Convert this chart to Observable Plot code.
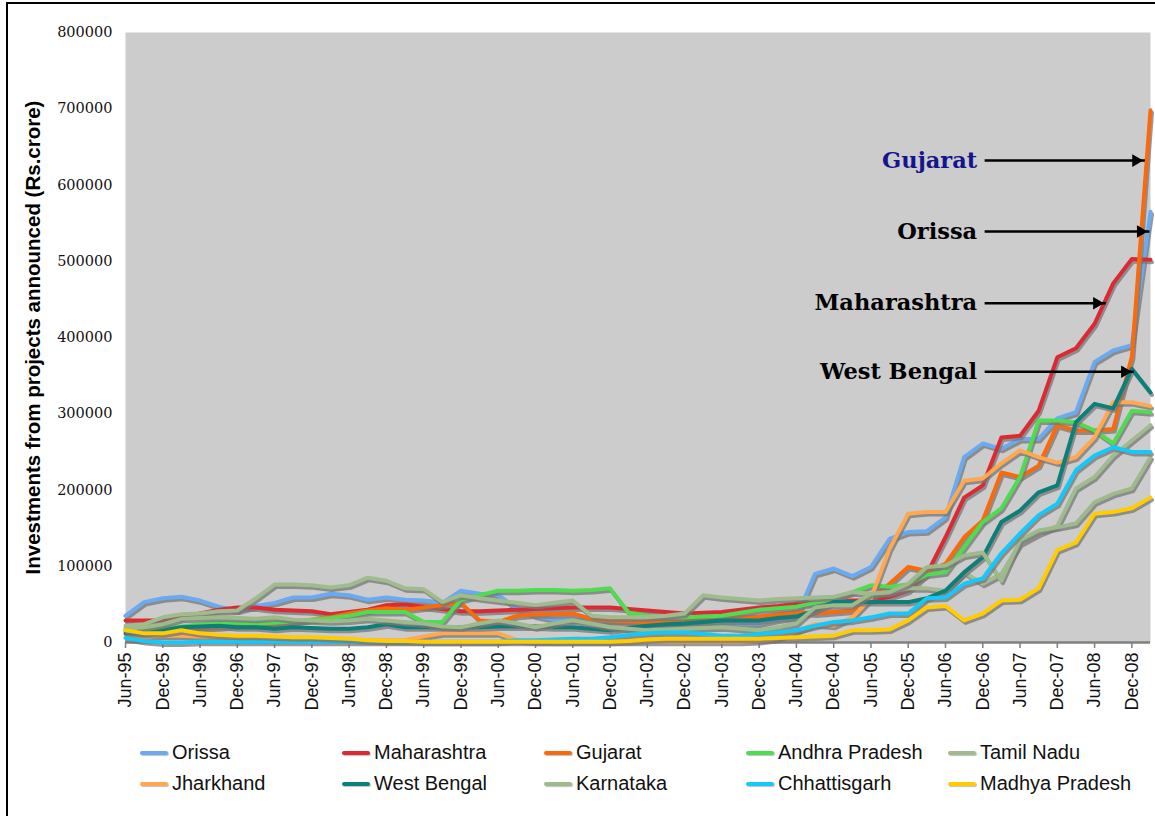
<!DOCTYPE html>
<html>
<head>
<meta charset="utf-8">
<script src="https://cdn.jsdelivr.net/npm/d3@7"></script>
<script src="https://cdn.jsdelivr.net/npm/@observablehq/plot@0.6"></script>
<style>
  html, body { margin: 0; padding: 0; background: #fff; }
  #wrap { position: relative; width: 1155px; height: 816px; overflow: hidden; }
  #border { position: absolute; left: 6px; top: 2px; right: -10px; bottom: -10px; border-left: 2px solid #000; border-top: 2px solid #000; }
  #chart { position: absolute; left: 0; top: 0; }
  #legend { position: absolute; left: 0; top: 741px; width: 1155px; height: 70px; font-family: "Liberation Sans", Arial, sans-serif; font-size: 20px; color: #111; }
  .item { position: absolute; display: flex; align-items: center; white-space: nowrap; }
  .sw { display: inline-block; width: 28px; height: 4px; margin-right: 4px; border-radius: 2px; box-shadow: 1px 1px 1px rgba(0,0,0,0.25); }
  g[aria-label="x-axis tick label"] { font-family: "Liberation Sans", Arial, sans-serif; font-size: 18px; fill: #111; }
  g[aria-label="y-axis tick label"] { font-family: "DejaVu Serif", serif; font-size: 14.5px; fill: #111; }
</style>
</head>
<body>
<div id="wrap">
  <div id="border"></div>
  <div id="chart"></div>
  <div id="legend"></div>
</div>
<script>
// Quarterly categories (x axis)
const quarters = ["Jun-95","Sep-95","Dec-95","Mar-96","Jun-96","Sep-96","Dec-96","Mar-97","Jun-97","Sep-97","Dec-97","Mar-98","Jun-98","Sep-98","Dec-98","Mar-99","Jun-99","Sep-99","Dec-99","Mar-00","Jun-00","Sep-00","Dec-00","Mar-01","Jun-01","Sep-01","Dec-01","Mar-02","Jun-02","Sep-02","Dec-02","Mar-03","Jun-03","Sep-03","Dec-03","Mar-04","Jun-04","Sep-04","Dec-04","Mar-05","Jun-05","Sep-05","Dec-05","Mar-06","Jun-06","Sep-06","Dec-06","Mar-07","Jun-07","Sep-07","Dec-07","Mar-08","Jun-08","Sep-08","Dec-08","Mar-09"];

const states = ["Orissa","Maharashtra","Gujarat","Andhra Pradesh","Tamil Nadu","Jharkhand","West Bengal","Karnataka","Chhattisgarh","Madhya Pradesh"];
const colors = ["#6aaaf0","#dc2a33","#fa6a0a","#4fdc50","#a0bb8e","#ffa850","#0d7f79","#9dba8b","#16c8f8","#ffcc00"];

// Values (Rs. crore), one per quarter
const orissa = [35000,53000,58000,60000,55000,47000,42000,48000,52000,59000,59000,64000,62000,56000,59000,56000,55000,52000,68000,64000,62000,45000,35000,30000,30000,29000,28000,28000,26000,25000,27000,28000,26000,25000,25000,30000,33000,90000,97000,87000,99000,136000,145000,146000,164000,243000,261000,254000,267000,267000,294000,302000,368000,383000,390000,565000];
const maharashtra = [29000,29000,29000,33000,38000,43000,46000,46000,43000,42000,41000,37000,40000,43000,49000,50000,47000,44000,41000,41000,42000,43000,44000,45000,46000,46000,46000,44000,42000,40000,38000,39000,40000,43000,46000,48000,51000,52000,53000,55000,55000,60000,68000,90000,138000,190000,206000,269000,271000,304000,374000,386000,418000,471000,503000,502000];
const gujarat = [15000,16000,17000,18000,19000,20000,22000,22000,23000,27000,30000,33000,38000,42000,45000,43000,46000,49000,52000,29000,27000,35000,37000,37000,38000,31000,29000,28000,27000,27000,28000,30000,32000,33000,34000,37000,40000,38000,40000,42000,58000,77000,99000,94000,103000,138000,160000,223000,217000,232000,285000,278000,278000,280000,375000,698000];
const andhra = [18000,18000,20000,21000,24000,26000,26000,25000,26000,28000,30000,32000,35000,40000,40000,40000,27000,27000,56000,62000,68000,68000,69000,69000,68000,69000,71000,39000,35000,34000,33000,34000,35000,39000,43000,45000,47000,52000,57000,66000,75000,73000,76000,89000,92000,125000,158000,176000,217000,291000,291000,289000,278000,261000,304000,302000];
const tamilNadu = [22000,24000,33000,37000,38000,41000,42000,58000,76000,76000,75000,72000,75000,85000,81000,71000,70000,53000,62000,58000,55000,52000,49000,52000,55000,35000,33000,33000,33000,35000,38000,62000,59000,57000,55000,57000,58000,59000,60000,66000,64000,66000,71000,71000,68000,92000,77000,90000,130000,143000,153000,202000,217000,245000,265000,285000];
const jharkhand = [10000,8000,9000,9000,8000,8000,7000,7000,6000,6000,5000,4000,4000,3000,3000,3000,8000,12000,12000,12000,12000,3000,1000,1000,1000,1000,1000,1000,1000,1000,1000,1000,1000,1000,2000,5000,15000,24000,22000,33000,58000,123000,169000,171000,171000,212000,215000,235000,252000,243000,236000,243000,269000,315000,315000,310000];
const westBengal = [12000,12000,16000,20000,21000,22000,20000,20000,18000,20000,19000,18000,18000,20000,24000,20000,20000,20000,20000,20000,21000,21000,21000,20000,20000,18000,16000,19000,22000,24000,25000,27000,29000,29000,29000,32000,34000,42000,53000,53000,53000,53000,53000,58000,68000,92000,112000,158000,173000,197000,206000,289000,313000,307000,359000,328000];
const karnataka = [18000,20000,24000,31000,32000,33000,32000,31000,33000,30000,29000,28000,29000,31000,29000,27000,25000,21000,20000,25000,29000,25000,20000,25000,29000,25000,20000,18000,16000,17000,18000,19000,20000,18000,16000,20000,25000,46000,49000,49000,64000,66000,77000,99000,101000,114000,118000,81000,134000,147000,151000,156000,184000,195000,202000,243000];
const chhattisgarh = [6000,2000,0,0,1000,1000,1000,1000,1000,1000,1000,1000,1000,1000,1000,1000,1000,1000,1000,1000,1000,3000,3000,4000,5000,5000,7000,10000,12000,13000,13000,11000,9000,9000,11000,13000,16000,22000,27000,29000,33000,38000,38000,58000,59000,77000,84000,117000,143000,167000,182000,226000,245000,256000,250000,250000];
const madhyaPradesh = [16000,12000,12000,16000,12000,10000,9000,9000,8000,7000,7000,6000,5000,3000,2000,2000,1000,1000,1000,1000,1000,1000,1000,1000,1000,1000,1000,2000,4000,5000,5000,5000,5000,5000,5000,6000,7000,8000,9000,16000,16000,17000,29000,46000,48000,29000,38000,55000,56000,71000,121000,131000,169000,171000,176000,190000];

const series = [orissa, maharashtra, gujarat, andhra, tamilNadu, jharkhand, westBengal, karnataka, chhattisgarh, madhyaPradesh];

const yTicks = [0,100000,200000,300000,400000,500000,600000,700000,800000];
const yTitle = "Investments from projects announced (Rs.crore)";

// Call-out labels with arrows (positions in data units: quarter index / value)
const annotations = [
  {label: "Gujarat",     color: "#14148c", textX: 45.7, arrowFrom: 46.1, arrowTo: 54.7, y: 632000},
  {label: "Orissa",      color: "#000000", textX: 45.7, arrowFrom: 46.1, arrowTo: 54.95, y: 539000},
  {label: "Maharashtra", color: "#000000", textX: 45.7, arrowFrom: 46.1, arrowTo: 52.6, y: 445000},
  {label: "West Bengal", color: "#000000", textX: 45.7, arrowFrom: 46.1, arrowTo: 54.1, y: 355000}
];

const rows = [];
series.forEach((vals, s) => vals.forEach((v, i) => rows.push({q: i, state: states[s], value: v})));

const tickIdx = quarters.map((q, i) => i).filter(i => i % 2 === 0);

const lineMarks = [];
states.forEach((st, s) => {
  const data = rows.filter(r => r.state === st);
  lineMarks.push(Plot.line(data, {x: "q", y: "value", stroke: "#777", strokeOpacity: 0.75, strokeWidth: 4, dx: 1.5, dy: 2.5, strokeLinejoin: "round"}));
  lineMarks.push(Plot.line(data, {x: "q", y: "value", stroke: colors[s], strokeWidth: 4, strokeLinejoin: "round"}));
});

const chart = Plot.plot({
  width: 1155,
  height: 728,
  marginLeft: 125,
  marginRight: 5,
  marginTop: 32,
  marginBottom: 86,
  style: {background: "transparent", overflow: "visible"},
  x: {domain: [0, quarters.length - 1]},
  y: {domain: [0, 800000]},
  marks: [
    Plot.frame({fill: "#cccccc", stroke: null}),
    Plot.axisY(yTicks, {tickSize: 0, tickPadding: 13, tickFormat: d => String(d), label: null}),
    Plot.axisX(tickIdx, {tickFormat: i => quarters[i], tickRotate: -90, tickSize: 6, tickPadding: 4, stroke: "#7f7f7f", strokeWidth: 1.5, label: null}),
    Plot.ruleY([0], {stroke: "#808080", strokeWidth: 2.5}),
    ...lineMarks,
    Plot.text([yTitle], {frameAnchor: "left", textAnchor: "middle", rotate: -90, dx: -92, text: d => d, fontSize: 20.5, fontWeight: "bold", fontFamily: "Liberation Sans, Arial, sans-serif", fill: "#000"}),
    Plot.link(annotations, {x1: "arrowFrom", x2: "arrowTo", y1: "y", y2: "y", stroke: "#000", strokeWidth: 2.5}),
    Plot.dot(annotations, {x: "arrowTo", y: "y", symbol: "triangle2", rotate: 90, r: 6, fill: "#000", stroke: null, dx: -9}),
    Plot.text(annotations, {x: "textX", y: "y", text: "label", textAnchor: "end", fill: "color", fontSize: 22.5, fontWeight: "bold", fontFamily: "DejaVu Serif, serif"})
  ]
});
document.getElementById("chart").appendChild(chart);

// Legend (2 rows x 5 columns)
const legend = document.getElementById("legend");
states.forEach((st, s) => {
  const col = s % 5, row = Math.floor(s / 5);
  const el = document.createElement("div");
  el.className = "item";
  el.style.left = (140 + col * 202) + "px";
  el.style.top = (row * 31) + "px";
  el.innerHTML = `<span class="sw" style="background:${colors[s]}"></span><span>${st}</span>`;
  legend.appendChild(el);
});
</script>
</body>
</html>
